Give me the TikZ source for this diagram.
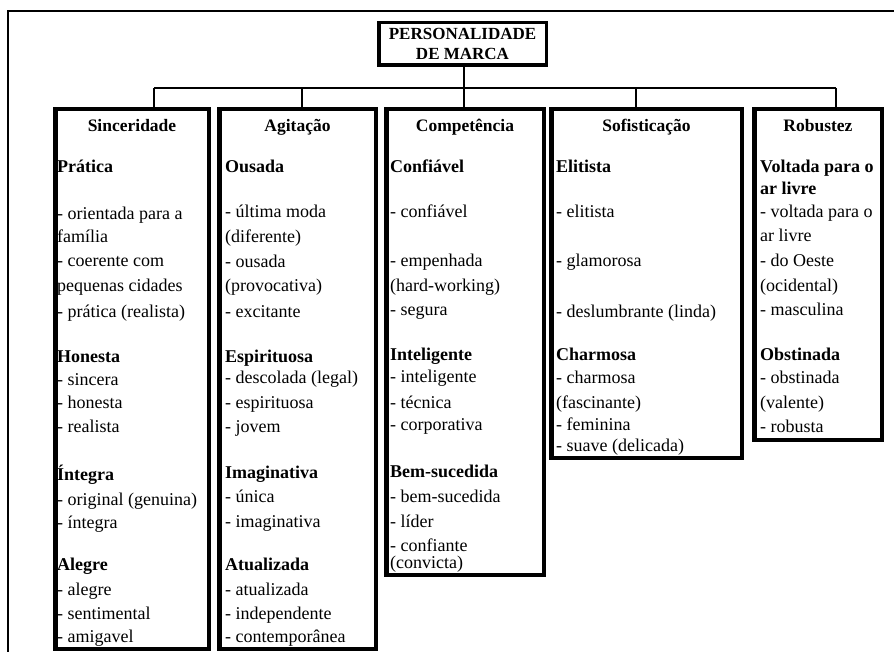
\documentclass[tikz,border=0pt]{standalone}
\usepackage{fontspec}
\setmainfont{Liberation Serif}
\newcommand\mybf[1]{{\bfseries #1}}
\begin{document}
\begin{tikzpicture}[x=1pt,y=-1pt,
  catbox/.style={draw,line width=4.5pt,rectangle,inner sep=0pt},
  ttl/.style={draw,line width=3.5pt,inner sep=0pt,align=center,font=\fontsize{17}{20}\selectfont\bfseries},
  hdr/.style={font=\fontsize{17.5}{20}\selectfont\bfseries,inner sep=0pt,anchor=base,yshift=-6pt},
  ln/.style={font=\fontsize{18}{20}\selectfont,inner sep=0pt,anchor=base west,yshift=-5pt},
  conn/.style={line width=2.5pt}]
\useasboundingbox (0,0) rectangle (894,652);
\fill[white] (0,0) rectangle (894,652);
\draw[line width=2.5pt] (8,652) -- (8,11) -- (894,11);

% title
\node[ttl,minimum width=167.5pt,minimum height=42.5pt] (title) at (462.5,44) {PERSONALIDADE\\DE MARCA};

% category boxes
\node[catbox,minimum width=153.5pt,minimum height=539.5pt] (sinc) at (132,379) {};
\node[catbox,minimum width=156.5pt,minimum height=539.5pt] (agit) at (297.5,379) {};
\node[catbox,minimum width=157.5pt,minimum height=465.5pt] (comp) at (465,342) {};
\node[catbox,minimum width=190.5pt,minimum height=348.5pt] (sofi) at (646.5,283.5) {};
\node[catbox,minimum width=127.5pt,minimum height=330.5pt] (robu) at (818,274.5) {};

% connectors
\coordinate (j1) at (154,88);
\coordinate (j2) at (302,88);
\coordinate (j3) at (464,88);
\coordinate (j4) at (636,88);
\coordinate (j5) at (836,88);
\draw[conn] (title.south -| j3) -- (j3);
\draw[conn] (j1) -- (j5);
\draw[conn] (j1) -- (j1 |- sinc.north);
\draw[conn] (j2) -- (j2 |- agit.north);
\draw[conn] (j3) -- (j3 |- comp.north);
\draw[conn] (j4) -- (j4 |- sofi.north);
\draw[conn] (j5) -- (j5 |- robu.north);

% headers
\node[hdr] (h1) at (132,126) {Sinceridade};
\node[hdr] (h2) at (297.5,126) {Agitação};
\node[hdr] (h3) at (465,126) {Competência};
\node[hdr] (h4) at (646.5,126) {Sofisticação};
\node[hdr] (h5) at (818,126) {Robustez};

% column 1
\foreach \p/\q [count=\i] in {168/\mybf{Prática},215/- orientada para a,238/família,262/- coerente com,287/pequenas cidades,312/- prática (realista),357/\mybf{Honesta},380/- sincera,403/- honesta,427/- realista,475/\mybf{Íntegra},500/- original (genuina),523/- íntegra,565/\mybf{Alegre},590/- alegre,614/- sentimental,637/- amigavel}
  \node[ln] (a\i) at (57,\p) {\q};

% column 2
\foreach \p/\q [count=\i] in {168/\mybf{Ousada},213/- última moda,238/(diferente),263/- ousada,287/(provocativa),312/- excitante,357/\mybf{Espirituosa},378/- descolada (legal),403/- espirituosa,427/- jovem,473/\mybf{Imaginativa},497/- única,522/- imaginativa,565/\mybf{Atualizada},590/- atualizada,614/- independente,637/- contemporânea}
  \node[ln] (b\i) at (225,\p) {\q};

% column 3
\foreach \p/\q [count=\i] in {168/\mybf{Confiável},213/- confiável,262/- empenhada,286/(hard-working),311/- segura,355/\mybf{Inteligente},377/- inteligente,403/- técnica,425/- corporativa,472/\mybf{Bem-sucedida},497/- bem-sucedida,522/- líder,546/- confiante,563/(convicta)}
  \node[ln] (c\i) at (390,\p) {\q};

% column 4
\foreach \p/\q [count=\i] in {168/\mybf{Elitista},213/- elitista,262/- glamorosa,312/- deslumbrante (linda),355/\mybf{Charmosa},378/- charmosa,403/(fascinante),425/- feminina,446/- suave (delicada)}
  \node[ln] (d\i) at (556,\p) {\q};

% column 5
\foreach \p/\q [count=\i] in {168/\mybf{Voltada para o},190/\mybf{ar livre},213/- voltada para o,237/ar livre,262/- do Oeste,287/(ocidental),311/- masculina,355/\mybf{Obstinada},378/- obstinada,403/(valente),427/- robusta}
  \node[ln] (e\i) at (760,\p) {\q};
\end{tikzpicture}
\end{document}
